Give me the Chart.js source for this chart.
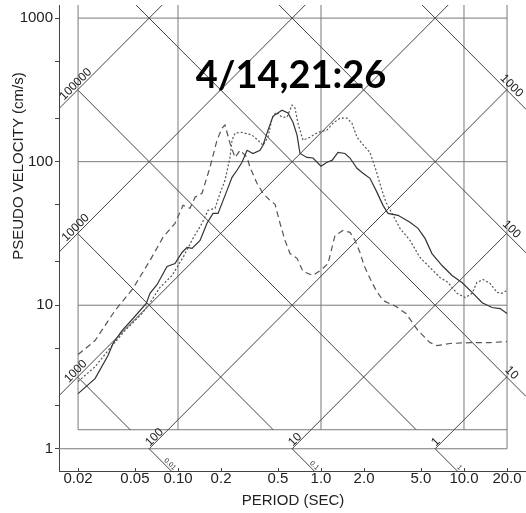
<!DOCTYPE html>
<html>
<head>
<meta charset="utf-8">
<script src="https://cdn.jsdelivr.net/npm/chart.js@4.4.1/dist/chart.umd.min.js"></script>
<style>
  html, body { margin: 0; padding: 0; background: #fff; }
  #wrap { width: 526px; height: 513px; }
</style>
</head>
<body>
<div id="wrap"><canvas id="c" width="526" height="513"></canvas></div>
<script>
// Response spectra (period in s, pseudo velocity in cm/s)
const SOLID_T  = [0.020,0.0263,0.0324,0.0351,0.0406,0.0485,0.060,0.0637,0.0713,0.0838,0.0953,0.1067,0.1156,0.1253,0.1426,0.1595,0.1758,0.1905,0.2202,0.2386,0.2587,0.2803,0.304,0.3345,0.3745,0.393,0.419,0.4615,0.5335,0.5877,0.637,0.68,0.713,0.798,0.879,1.0,1.101,1.194,1.315,1.472,1.595,1.785,1.967,2.20,2.464,2.714,2.942,3.455,4.19,4.77,5.34,5.97,7.02,8.25,9.68,11.4,13.4,15.7,17.9,20.0];
const SOLID_SV = [2.42,3.08,4.46,5.41,6.66,8.08,10.3,12.1,13.9,18.6,19.5,23.3,25.3,24.9,28.3,37.2,43.6,43.6,63.1,77.8,87.1,99.0,120,114,120,130,158,207,228,218,188,153,114,107,106,92.9,99,102,116,114,106,89.9,83.0,76.6,61.1,49.6,43.6,42.3,37.8,34.3,29.2,22.9,18.9,16.1,14.4,12.3,10.4,9.64,9.48,8.75];

const DOTTED_T  = [0.02,0.0263,0.0346,0.0426,0.056,0.0637,0.0748,0.0908,0.1084,0.1273,0.1472,0.162,0.1815,0.1967,0.2132,0.231,0.2386,0.2505,0.2803,0.3293,0.3625,0.393,0.426,0.4545,0.4844,0.5335,0.5785,0.627,0.658,0.6905,0.748,0.838,0.953,1.101,1.213,1.358,1.52,1.647,1.785,1.935,2.20,2.425,2.628,2.848,3.188,3.567,4.19,4.92,5.6,6.79,7.73,8.93,10.2,11.4,12.3,13.6,15.2,17.0,18.4,20.0];
const DOTTED_SV = [2.94,3.73,5.23,6.66,8.75,10.4,13.3,16.1,21.5,29.2,37.2,45.8,47.3,60.2,74.2,107,141,158,160,153,141,130,148,201,221,204,204,248,236,185,141,148,160,166,185,201,201,185,148,134,116,87.1,66.3,52.1,42.3,34.3,28.3,21.5,18.9,15.6,14.4,12.1,11.3,12.1,14.4,15.1,14.2,12.3,12.1,12.7];

const DASHED_T  = [0.02,0.0263,0.0363,0.0485,0.0637,0.0785,0.0953,0.1084,0.1213,0.1315,0.1472,0.1674,0.1874,0.203,0.2132,0.231,0.2505,0.2716,0.304,0.3189,0.3568,0.393,0.44,0.477,0.517,0.56,0.607,0.68,0.748,0.879,1.016,1.119,1.253,1.425,1.595,1.729,1.874,2.0,2.20,2.425,2.714,3.345,3.93,4.77,5.78,6.48,7.98,11.0,15.2,20.0];
const DASHED_SV = [4.53,5.67,9.19,13.1,20.5,29.7,37.2,49.6,47.3,56.5,60.2,91.4,141,171,180,134,107,120,107,91.4,70.7,60.2,53.8,50.4,37.2,28.3,22.9,21.2,17.2,16.1,17.8,19.5,30.6,33.2,32.2,28.3,23.3,18.9,15.4,12.7,10.8,9.79,8.75,6.66,5.49,5.23,5.41,5.49,5.49,5.58];

// Axis ticks
const PERIOD_TICKS  = [0.02, 0.05, 0.1, 0.2, 0.5, 1, 2, 5, 10, 20];
const PERIOD_LABELS = ['0.02', '0.05', '0.10', '0.2', '0.5', '1.0', '2.0', '5.0', '10.0', '20.0'];
const VELOCITY_TICKS  = [1, 2, 5, 10, 20, 50, 100, 200, 500, 1000];
const VELOCITY_LABELS = ['1', '', '', '10', '', '', '100', '', '', '1000'];

// Tripartite grid: period/velocity grid, constant acceleration (cm/s²), constant displacement (cm)
const GRID_PERIODS    = [0.02, 0.1, 1, 10, 20];
const GRID_VELOCITIES = [1, 10, 100, 1000];
const ACCEL_LINES     = [1, 10, 100, 1000, 10000, 100000];
const DISP_LINES      = [0.01, 0.1, 1, 10, 100, 1000];
const DISP_TICKS      = [0.01, 0.1, 1];

const TITLE = '4/14,21:26';
const TWO_PI = 2 * Math.PI;
const T_FIRST = 0.02, T_LAST = 20, SV_FLOOR = 1.357;
const FONT = '"Liberation Sans", Arial, Helvetica, sans-serif';

const series = (ts, vs) => ts.map((t, i) => ({ x: t, y: vs[i] }));

const tripartite = {
  id: 'tripartite',
  beforeDatasetsDraw(chart) {
    const { ctx, chartArea: a, scales: { x, y } } = chart;
    const px = t => x.getPixelForValue(t);
    const py = v => y.getPixelForValue(v);
    const seg = (t1, v1, t2, v2) => {
      ctx.beginPath();
      ctx.moveTo(px(t1), py(v1));
      ctx.lineTo(px(t2), py(v2));
      ctx.stroke();
    };
    ctx.save();
    ctx.beginPath();
    ctx.rect(a.left, a.top, a.right - a.left, a.bottom - a.top);
    ctx.clip();
    ctx.lineWidth = 1;

    // period / velocity grid
    ctx.strokeStyle = '#7a7a7a';
    GRID_VELOCITIES.forEach(v => seg(v === 1 ? x.min : T_FIRST, v, T_LAST, v));
    seg(T_FIRST, SV_FLOOR, T_LAST, SV_FLOOR);
    GRID_PERIODS.forEach(t => seg(t, t === T_LAST ? 1 : SV_FLOOR, t, y.max));

    // constant acceleration lines (rising)
    ctx.strokeStyle = '#444';
    ACCEL_LINES.forEach(A => {
      const t0 = Math.max(x.min, TWO_PI / A);
      seg(t0, A * t0 / TWO_PI, T_LAST, A * T_LAST / TWO_PI);
    });
    // constant displacement lines (falling)
    DISP_LINES.forEach(D => {
      const t1 = Math.min(x.max, TWO_PI * D / SV_FLOOR);
      seg(T_FIRST, TWO_PI * D / T_FIRST, t1, TWO_PI * D / t1);
    });
    DISP_TICKS.forEach(D => seg(TWO_PI * D, 1, TWO_PI * D / y.min, y.min));

    // inward period ticks
    ctx.strokeStyle = '#444';
    PERIOD_TICKS.forEach(t => {
      const xx = Math.round(px(t)) + 0.5;
      ctx.beginPath();
      ctx.moveTo(xx, a.bottom);
      ctx.lineTo(xx, a.bottom - 3);
      ctx.stroke();
    });
    ctx.restore();

    // scale labels on the diagonals
    const label = (text, t, v, dirT, dirV, align, along, lift, size) => {
      const x0 = px(t), y0 = py(v);
      const ang = Math.atan2(py(dirV) - y0, px(dirT) - x0);
      ctx.save();
      ctx.translate(x0, y0);
      ctx.rotate(ang);
      ctx.font = size + 'px ' + FONT;
      ctx.fillStyle = '#222';
      ctx.textAlign = align;
      ctx.textBaseline = 'alphabetic';
      ctx.fillText(text, along, -lift);
      ctx.restore();
    };
    ACCEL_LINES.forEach(A => {
      if (A >= 1000) {
        const t = T_FIRST;
        label(String(A), t, A * t / TWO_PI, t * 2, A * t * 2 / TWO_PI, 'center', 2, 2, 12);
      } else {
        const t = TWO_PI / A;
        label(String(A), t, 1, t * 2, 2, 'left', 2, 1, 12);
      }
    });
    DISP_LINES.forEach(D => {
      if (D >= 10) {
        const t = T_LAST;
        label(String(D), t, TWO_PI * D / t, t * 2, TWO_PI * D / (t * 2), 'center', 0, 3, 12);
      }
    });
    DISP_TICKS.forEach(D => {
      const t = TWO_PI * D / y.min;
      label(String(D), t, y.min, t * 2, y.min / 2, 'right', 1, 2, 7);
    });
  },
  afterDatasetsDraw(chart) {
    const { ctx } = chart;
    ctx.save();
    ctx.fillStyle = '#000';
    ctx.font = 'bold 38px Lato, "Open Sans", sans-serif';
    ctx.textAlign = 'center';
    ctx.textBaseline = 'alphabetic';
    ctx.fillText(TITLE, 291, 88);

    ctx.fillStyle = '#222';
    ctx.font = '15px ' + FONT;
    ctx.textBaseline = 'middle';
    ctx.fillText('PERIOD (SEC)', 293, 501);
    ctx.translate(18.5, 166);
    ctx.rotate(-Math.PI / 2);
    ctx.fillText('PSEUDO VELOCITY (cm/s)', 0, 0);
    ctx.restore();
  }
};

new Chart(document.getElementById('c'), {
  type: 'line',
  data: {
    datasets: [
      { label: 'solid', data: series(SOLID_T, SOLID_SV), borderColor: '#333', borderWidth: 1.2 },
      { label: 'dotted', data: series(DOTTED_T, DOTTED_SV), borderColor: '#555', borderWidth: 1.2, borderDash: [2, 2] },
      { label: 'dashed', data: series(DASHED_T, DASHED_SV), borderColor: '#555', borderWidth: 1.2, borderDash: [6, 4] }
    ]
  },
  options: {
    responsive: false,
    animation: false,
    devicePixelRatio: 1,
    layout: { padding: { top: 5, right: 0, bottom: 0, left: 0 } },
    elements: { point: { radius: 0 }, line: { tension: 0, fill: false } },
    plugins: { legend: { display: false }, tooltip: { enabled: false }, title: { display: false } },
    scales: {
      x: {
        type: 'logarithmic',
        min: 0.014716,
        max: 27.14,
        afterBuildTicks: s => { s.ticks = PERIOD_TICKS.map(v => ({ value: v })); },
        afterFit: s => { s.height = 42; s.paddingLeft = 0; s.paddingRight = 0; },
        ticks: {
          autoSkip: false, maxRotation: 0, minRotation: 0, padding: -1, color: '#222',
          font: { family: FONT, size: 15 },
          callback: v => { const i = PERIOD_TICKS.indexOf(v); return i >= 0 ? PERIOD_LABELS[i] : ''; }
        },
        grid: { drawOnChartArea: false, drawTicks: false },
        border: { display: true, color: '#444', width: 1 }
      },
      y: {
        type: 'logarithmic',
        min: 0.7371,
        max: 1234,
        afterBuildTicks: s => { s.ticks = VELOCITY_TICKS.map(v => ({ value: v })); },
        afterFit: s => { s.width = 59; s.paddingTop = 0; s.paddingBottom = 0; },
        ticks: {
          autoSkip: false, padding: 2, color: '#222',
          font: { family: FONT, size: 15 },
          callback: v => { const i = VELOCITY_TICKS.indexOf(v); return i >= 0 ? VELOCITY_LABELS[i] : ''; }
        },
        grid: { drawOnChartArea: false, drawTicks: true, tickLength: 4, color: '#444' },
        border: { display: true, color: '#444', width: 1 }
      }
    }
  },
  plugins: [tripartite]
});
</script>
</body>
</html>
